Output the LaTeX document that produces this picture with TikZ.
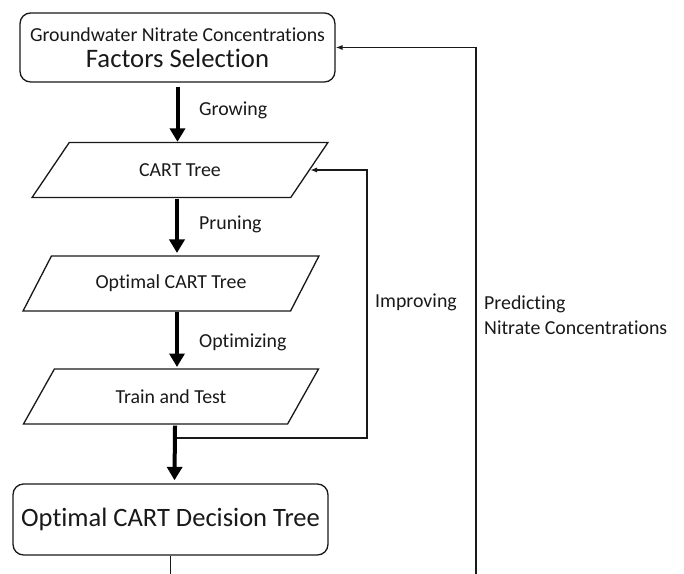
\documentclass[tikz,border=0pt]{standalone}
\usepackage{fontspec}
\setmainfont{Carlito}[Ligatures=NoCommon]
\usepackage{xcolor}
\usepackage{tikz}
\usetikzlibrary{calc,arrows.meta,shapes.geometric}
\definecolor{flowInk}{RGB}{25,25,25}

\begin{document}
\begin{tikzpicture}[x=0.02cm,y=-0.02cm,
    roundbox/.style={draw=flowInk, line width=0.75pt, rounded corners=6pt,
        align=center, inner sep=0pt, minimum width=6.3cm, text=flowInk},
    databox/.style={draw=flowInk, line width=0.75pt, trapezium,
        trapezium left angle=43.5, trapezium right angle=136.5,
        trapezium stretches=true, minimum width=5.92cm, minimum height=1.1cm,
        inner sep=0pt, text=flowInk, font=\fontsize{11.3}{13}\selectfont},
    bigflow/.style={draw=black, line width=0.08cm,
        -{Triangle[length=0.27cm,width=0.3cm]}},
    backflow/.style={draw=flowInk, line width=0.75pt,
        -{Latex[length=4pt,width=3pt]}},
    steplabel/.style={anchor=west, text=flowInk, align=left,
        font=\fontsize{11.3}{14}\selectfont}]

    \useasboundingbox (0,0) rectangle (684,574);

    % process boxes
    \node[roundbox, minimum height=1.38cm] (sel) at (177.5,47.5)
        {{\fontsize{11.3}{13}\selectfont Groundwater Nitrate Concentrations}\\[2.5pt]
         {\fontsize{15.2}{17}\selectfont Factors Selection}};
    \node[databox] (cart) at (180,170) {CART Tree};
    \node[databox] (opt) at (171,283.5) {Optimal CART Tree};
    \node[databox] (tt) at (171,396.5) {Train and Test};
    \node[roundbox, minimum height=1.42cm, font=\fontsize{15.1}{18}\selectfont]
        (best) at (170.5,519.5) {Optimal CART Decision Tree};

    % main flow
    \draw[bigflow] ($(sel.south)+(0,4)$) -- (cart.north -| sel.south);
    \draw[bigflow] (177,199) -- (177,253);
    \draw[bigflow] (177,312) -- (177,367);
    \draw[bigflow] ($(tt.south)+(4,1)$) -- ($(best.north)+(4,-3)$);

    % step labels
    \node[steplabel] (grow) at (193,110) {Growing};
    \node[steplabel] (prune) at (193,224) {Pruning};
    \node[steplabel] (optim) at (193,342) {Optimizing};

    % feedback loops
    \coordinate (split) at (177,438);
    \coordinate (loop) at (367,438);
    \draw[backflow] (split) -- (loop) |- (cart.east);
    \node[steplabel] (improve) at (369,302) {Improving};

    \coordinate (cutL) at (best.south |- 0,574);
    \coordinate (cutR) at (476,574);
    \draw[draw=flowInk, line width=0.75pt] (best.south) -- (cutL);
    \draw[backflow] (cutR) |- (sel.east);
    \node[steplabel] (predict) at (478,315) {Predicting\\Nitrate Concentrations};

\end{tikzpicture}
\end{document}
